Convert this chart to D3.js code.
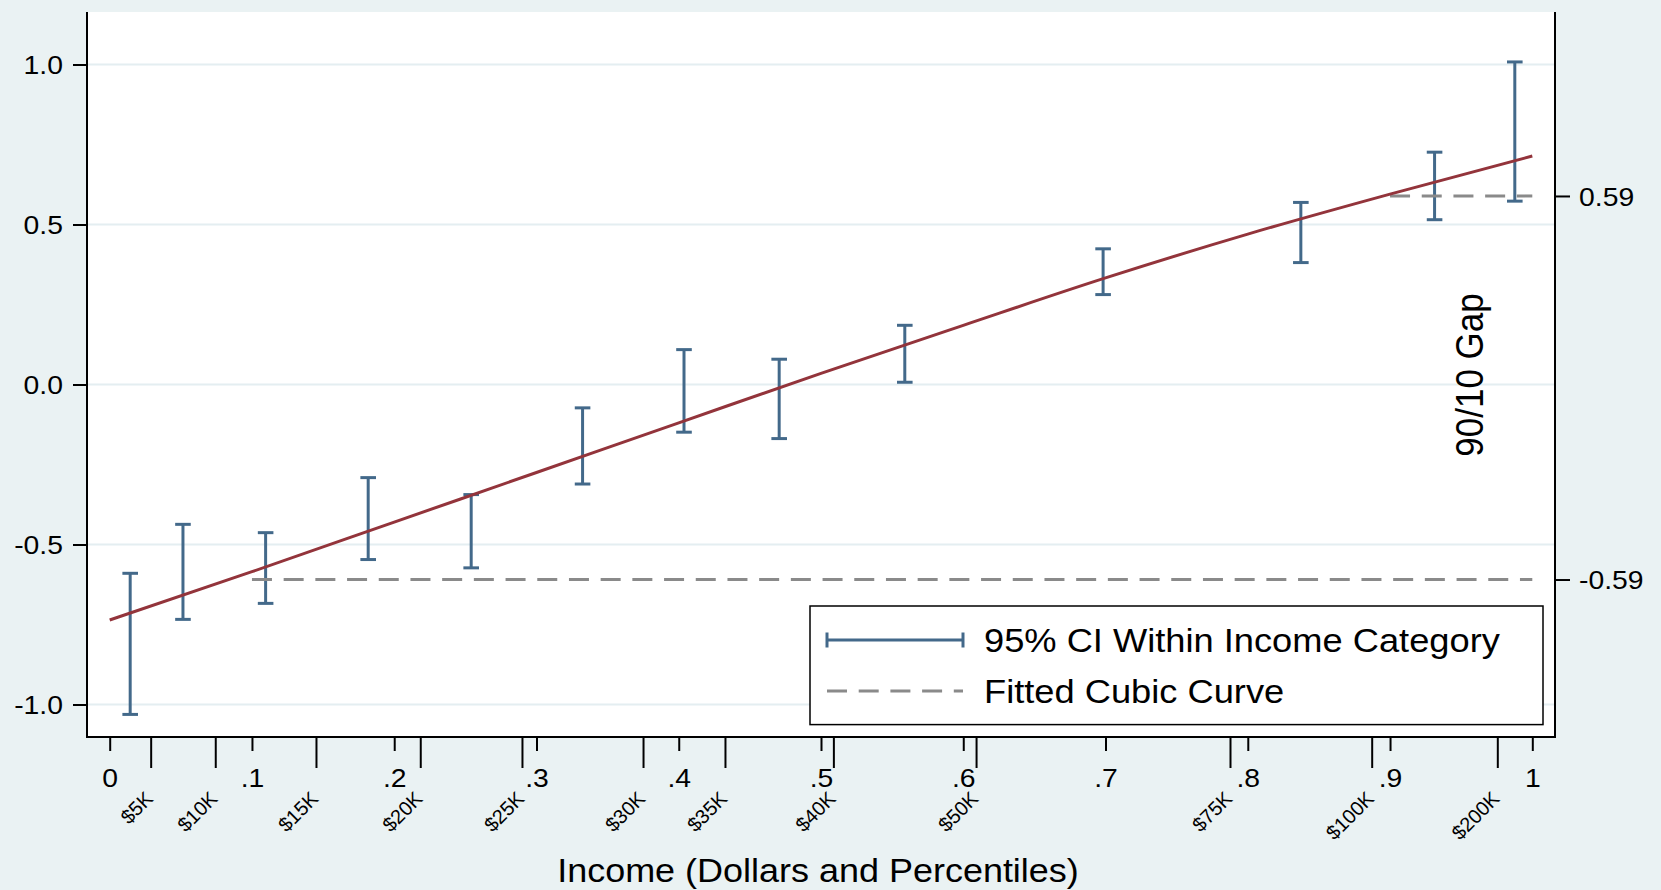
<!DOCTYPE html>
<html>
<head>
<meta charset="utf-8">
<script src="https://cdn.jsdelivr.net/npm/d3@7"></script>
<style>
  html, body { margin: 0; padding: 0; background: #eaf2f3; }
  svg { display: block; }
  text { font-family: "Liberation Sans", Arial, Helvetica, sans-serif; fill: #000; }
</style>
</head>
<body>
<svg id="chart" width="1661" height="890"></svg>
<script>
// ---- data ----------------------------------------------------------------
// percentile axis
const pctTicks  = [0, 0.1, 0.2, 0.3, 0.4, 0.5, 0.6, 0.7, 0.8, 0.9, 1];
const pctLabels = ["0", ".1", ".2", ".3", ".4", ".5", ".6", ".7", ".8", ".9", "1"];
// income thresholds placed at their percentile
const dollarTicks  = [0.0288, 0.0742, 0.1450, 0.2183, 0.2898, 0.3749, 0.4325, 0.5087, 0.6090, 0.7875, 0.8871, 0.9754];
const dollarLabels = ["$5K", "$10K", "$15K", "$20K", "$25K", "$30K", "$35K", "$40K", "$50K", "$75K", "$100K", "$200K"];
// income categories: percentile midpoint and 95% CI bounds
const binMid = [0.0144, 0.0515, 0.1096, 0.1817, 0.2541, 0.3324, 0.4037, 0.4706, 0.5589, 0.6983, 0.8373, 0.9313, 0.9877];
const ciLow  = [-1.031, -0.734, -0.684, -0.547, -0.573, -0.311, -0.149, -0.169, 0.007, 0.281, 0.381, 0.515, 0.573];
const ciHigh = [-0.590, -0.437, -0.463, -0.291, -0.344, -0.073, 0.109, 0.079, 0.185, 0.424, 0.569, 0.726, 1.008];
// fitted curve
const fitPct   = [0, 0.1, 0.2, 0.3, 0.4, 0.5, 0.6, 0.7, 0.8, 0.9, 1];
const fitValue = [-0.736, -0.585, -0.430, -0.275, -0.120, 0.035, 0.185, 0.333, 0.470, 0.595, 0.714];
// left axis
const yTicks = [-1, -0.5, 0, 0.5, 1];
// 90/10 gap reference lines (right axis)
const gapLevels = [-0.59, 0.59];
const gapLabels = ["-0.59", "0.59"];
const gapFrom   = [0.1, 0.9];
const gapTo     = [1, 1];
const legendLabels = ["95% CI Within Income Category", "Fitted Cubic Curve"];

// ---- layout --------------------------------------------------------------
const W = 1661, H = 890;
const plot = { left: 87, right: 1555, top: 12, bottom: 737 };
const BLUE = "#43698a", RED = "#93343b", GRAY = "#8a8a8a";
const TICK_FONT = 26, SX = 1.09;   // tick label size and horizontal stretch
const DASH = "20,11.7";

const svg = d3.select("#chart");
svg.append("rect").attr("width", W).attr("height", H).attr("fill", "#eaf2f3");
svg.append("rect")
  .attr("x", plot.left).attr("y", plot.top)
  .attr("width", plot.right - plot.left).attr("height", plot.bottom - plot.top)
  .attr("fill", "#fff");

const x  = d3.scaleLinear().domain([0, 1]).range([109.7, 1532.3]);
const y  = d3.scaleLinear().domain([-1, 1]).range([704.5, 64.5]);
const y2 = d3.scaleLinear().domain([-1, 1]).range([712.8, 62.7]);

// horizontal grid
svg.append("g").selectAll("line").data(yTicks).join("line")
  .attr("x1", plot.left).attr("x2", plot.right)
  .attr("y1", d => y(d)).attr("y2", d => y(d))
  .attr("stroke", "#e4eef1").attr("stroke-width", 2);

// ---- axes ------------------------------------------------------------------
function styleAxis(g) {
  g.select(".domain").remove();
  g.selectAll(".tick line").attr("stroke", "#000").attr("stroke-width", 2);
}

const gLeft = svg.append("g").attr("transform", `translate(${plot.left},0)`)
  .call(d3.axisLeft(y).tickValues(yTicks).tickSize(14).tickSizeOuter(0)
        .tickFormat(d => d.toFixed(1)));
styleAxis(gLeft);
gLeft.selectAll(".tick text")
  .attr("x", null).attr("dy", null)
  .attr("font-size", TICK_FONT).attr("text-anchor", "end")
  .attr("transform", `translate(-24,9.3) scale(${SX},1)`);

const gRight = svg.append("g").attr("transform", `translate(${plot.right},0)`)
  .call(d3.axisRight(y2).tickValues(gapLevels).tickSize(15).tickSizeOuter(0)
        .tickFormat((d, i) => gapLabels[i]));
styleAxis(gRight);
gRight.selectAll(".tick text")
  .attr("x", null).attr("dy", null)
  .attr("font-size", TICK_FONT).attr("text-anchor", "start")
  .attr("transform", `translate(24,9.3) scale(${SX},1)`);

const gPct = svg.append("g").attr("transform", `translate(0,${plot.bottom})`)
  .call(d3.axisBottom(x).tickValues(pctTicks).tickSize(14).tickSizeOuter(0)
        .tickFormat((d, i) => pctLabels[i]));
styleAxis(gPct);
gPct.selectAll(".tick text")
  .attr("y", null).attr("dy", null)
  .attr("font-size", TICK_FONT).attr("text-anchor", "middle")
  .attr("transform", `translate(0,50) scale(${SX},1)`);

const gDol = svg.append("g").attr("transform", `translate(0,${plot.bottom})`)
  .call(d3.axisBottom(x).tickValues(dollarTicks).tickSize(31).tickSizeOuter(0)
        .tickFormat((d, i) => dollarLabels[i]));
styleAxis(gDol);
gDol.selectAll(".tick text")
  .attr("y", null).attr("dy", null)
  .attr("font-size", 20).attr("text-anchor", "end")
  .attr("transform", `translate(3,63) rotate(-45)`);

// axis frame lines
const frame = svg.append("g").attr("stroke", "#000").attr("stroke-width", 2);
frame.append("line").attr("x1", plot.left).attr("x2", plot.left).attr("y1", plot.top).attr("y2", plot.bottom + 1);
frame.append("line").attr("x1", plot.right).attr("x2", plot.right).attr("y1", plot.top).attr("y2", plot.bottom + 1);
frame.append("line").attr("x1", plot.left - 1).attr("x2", plot.right + 1).attr("y1", plot.bottom).attr("y2", plot.bottom);

// ---- marks -----------------------------------------------------------------
const bars = svg.append("g").attr("stroke", BLUE).attr("stroke-width", 3);
const cap = 7.8;
binMid.forEach((m, i) => {
  const cx = x(m);
  bars.append("line").attr("x1", cx).attr("x2", cx).attr("y1", y(ciLow[i])).attr("y2", y(ciHigh[i]));
  bars.append("line").attr("x1", cx - cap).attr("x2", cx + cap).attr("y1", y(ciLow[i])).attr("y2", y(ciLow[i]));
  bars.append("line").attr("x1", cx - cap).attr("x2", cx + cap).attr("y1", y(ciHigh[i])).attr("y2", y(ciHigh[i]));
});

svg.append("g").selectAll("line").data(gapLevels).join("line")
  .attr("x1", (d, i) => x(gapFrom[i])).attr("x2", (d, i) => x(gapTo[i]))
  .attr("y1", d => y2(d)).attr("y2", d => y2(d))
  .attr("stroke", GRAY).attr("stroke-width", 3).attr("stroke-dasharray", DASH);

const fitLine = d3.line().x(d => x(d[0])).y(d => y(d[1])).curve(d3.curveMonotoneX);
svg.append("path")
  .datum(fitPct.map((p, i) => [p, fitValue[i]]))
  .attr("d", fitLine)
  .attr("fill", "none").attr("stroke", RED).attr("stroke-width", 3);

// ---- annotations -------------------------------------------------------------
svg.append("text")
  .attr("transform", `translate(1483,375) scale(1.1,1) rotate(-90)`)
  .attr("text-anchor", "middle").attr("font-size", 35)
  .text("90/10 Gap");

svg.append("text")
  .attr("transform", `translate(${(plot.left + plot.right) / 2 - 3},882) scale(1.107,1)`)
  .attr("text-anchor", "middle").attr("font-size", 32.5)
  .text("Income (Dollars and Percentiles)");

// ---- legend ------------------------------------------------------------------
const lg = svg.append("g");
lg.append("rect").attr("x", 810).attr("y", 606).attr("width", 733).attr("height", 118.6)
  .attr("fill", "#fff").attr("stroke", "#000").attr("stroke-width", 1.5);
const sx0 = 827, sx1 = 963, row = [640, 691];
const sym = lg.append("g").attr("stroke", BLUE).attr("stroke-width", 3);
sym.append("line").attr("x1", sx0).attr("x2", sx1).attr("y1", row[0]).attr("y2", row[0]);
sym.append("line").attr("x1", sx0).attr("x2", sx0).attr("y1", row[0] - 7.5).attr("y2", row[0] + 7.5);
sym.append("line").attr("x1", sx1).attr("x2", sx1).attr("y1", row[0] - 7.5).attr("y2", row[0] + 7.5);
lg.append("line").attr("x1", sx0).attr("x2", sx1).attr("y1", row[1]).attr("y2", row[1])
  .attr("stroke", GRAY).attr("stroke-width", 3).attr("stroke-dasharray", DASH);
legendLabels.forEach((t, i) => {
  lg.append("text")
    .attr("transform", `translate(984,${row[i] + 11.5}) scale(1.116,1)`)
    .attr("font-size", 32.5).text(t);
});
</script>
</body>
</html>
